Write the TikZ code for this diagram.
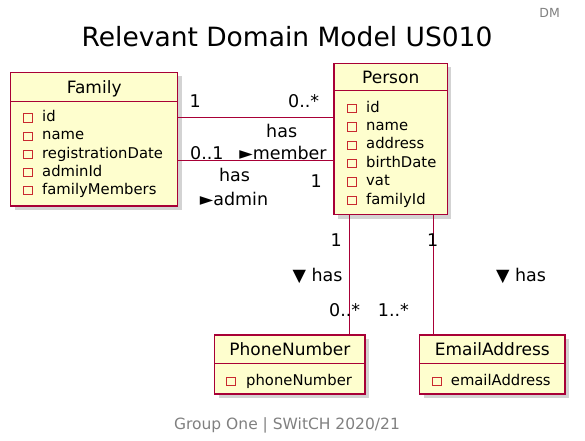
\documentclass[tikz,border=0pt]{standalone}
\usepackage{fontspec}
\setmainfont{DejaVu Sans}
\usetikzlibrary{shadows}
\definecolor{classfill}{HTML}{FEFECE}
\definecolor{classborder}{HTML}{A80036}
\definecolor{attrred}{HTML}{C82930}
\colorlet{notegray}{black!50}

\tikzset{
    umlclass/.style={draw=classborder, fill=classfill, line width=1.4pt, inner sep=0pt,
        anchor=north west,
        drop shadow={shadow xshift=4pt, shadow yshift=-4pt, opacity=0.35}},
    classname/.style={anchor=base, inner sep=0pt, font=\fontsize{17}{20}\selectfont},
    attrtext/.style={anchor=base west, inner sep=0pt, font=\fontsize{14.8}{18}\selectfont},
    attrsq/.style={draw=attrred, line width=0.8pt, minimum size=8.5pt, inner sep=0pt},
    assoc/.style={draw=classborder, line width=0.9pt},
    multlabel/.style={anchor=base west, inner sep=0pt, font=\fontsize{17.5}{21}\selectfont},
    rolelabel/.style={anchor=base, inner sep=0pt, font=\fontsize{17.5}{21}\selectfont},
}

\begin{document}
\begin{tikzpicture}[x=1pt, y=-1pt]
        \useasboundingbox (0,0) rectangle (585,440);
        % header and footer
        \node[anchor=base, inner sep=0pt, font=\fontsize{26.5}{30}\selectfont] (title) at (287,46) {Relevant Domain Model US010};
        \node[anchor=base east, inner sep=0pt, text=notegray, font=\fontsize{12.5}{15}\selectfont] (dm) at (560,17) {DM};
        \node[anchor=base, inner sep=0pt, text=notegray, font=\fontsize{15.5}{18}\selectfont] (footer) at (287,429) {Group One | SWitCH 2020/21};

        % classes
        \node[umlclass, minimum width=167, minimum height=133.5] (family) at (10,71.7) {};
        \node[umlclass, minimum width=113.4, minimum height=151.3] (person) at (333.3,62.7) {};
        \node[umlclass, minimum width=150.3, minimum height=59] (phone) at (214,334.3) {};
        \node[umlclass, minimum width=145.3, minimum height=59] (email) at (419,334.3) {};

        \draw[classborder, line width=1.4pt] (family.west |- 0,101.7) -- (family.east |- 0,101.7);
        \draw[classborder, line width=1.4pt] (person.west |- 0,90.7) -- (person.east |- 0,90.7);
        \draw[classborder, line width=1.4pt] (phone.west |- 0,363.3) -- (phone.east |- 0,363.3);
        \draw[classborder, line width=1.4pt] (email.west |- 0,363.3) -- (email.east |- 0,363.3);

        \node[classname] (family-name) at (family.north |- 0,93.3) {Family};
        \node[classname] (person-name) at (person.north |- 0,83.3) {Person};
        \node[classname] (phone-name) at (phone.north |- 0,355) {PhoneNumber};
        \node[classname] (email-name) at (email.north |- 0,355) {EmailAddress};

        % attributes
        \foreach \attr [count=\i] in {id,name,registrationDate,adminId,familyMembers}
        {
            \node[attrsq] (family-sq\i) at (27.7,{118+18.15*(\i-1)}) {};
            \node[attrtext] (family-a\i) at (42,{121.7+18.15*(\i-1)}) {\attr};
        }
        \foreach \attr [count=\i] in {id,name,address,birthDate,vat,familyId}
        {
            \node[attrsq] (person-sq\i) at (351.7,{108.6+18.34*(\i-1)}) {};
            \node[attrtext] (person-a\i) at (366,{112.3+18.34*(\i-1)}) {\attr};
        }
        \node[attrsq] (phone-sq1) at (231,381.3) {};
        \node[attrtext] (phone-a1) at (246,385) {phoneNumber};
        \node[attrsq] (email-sq1) at (436.7,381.3) {};
        \node[attrtext] (email-a1) at (450.7,385) {emailAddress};

        % associations
        \draw[assoc] (family.east |- 0,117.3) -- (person.west |- 0,117.3);
        \draw[assoc] (family.east |- 0,160) -- (person.west |- 0,160);
        \draw[assoc] (person.south -| 349,0) -- (phone.north -| 349,0);
        \draw[assoc] (person.south -| 433.3,0) -- (email.north -| 433.3,0);

        % multiplicities and roles
        \node[multlabel] (m-fam1) at (189.5,107.7) {1};
        \node[multlabel] (m-per1) at (288,107.7) {0..*};
        \node[rolelabel] (r-member1) at (281.7,137.7) {has};
        \node[rolelabel] (r-member2) at (283,159) {►member};
        \node[multlabel] (m-fam2) at (190,159) {0..1};
        \node[rolelabel] (r-admin1) at (234.5,181) {has};
        \node[rolelabel] (r-admin2) at (234,205.7) {►admin};
        \node[multlabel] (m-per2) at (310.5,187.7) {1};
        \node[multlabel] (m-per3) at (330.5,246) {1};
        \node[rolelabel] (r-phone) at (317.5,281.7) {▼ has};
        \node[multlabel] (m-phone) at (329,316.7) {0..*};
        \node[multlabel] (m-per4) at (427,246) {1};
        \node[rolelabel] (r-email) at (521,281.7) {▼ has};
        \node[multlabel] (m-email) at (377.7,316.7) {1..*};
    \end{tikzpicture}
\end{document}
